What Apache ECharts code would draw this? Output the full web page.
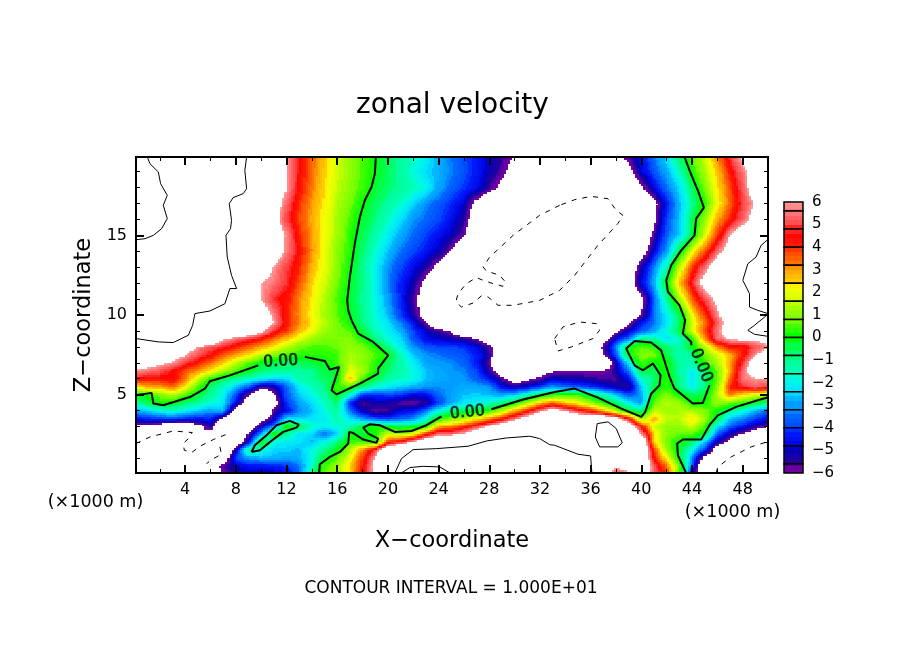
<![CDATA[<!DOCTYPE html>
<html>
<head>
<meta charset="utf-8">
<title>zonal velocity</title>
<script src="https://cdn.jsdelivr.net/npm/echarts@6/dist/echarts.min.js"></script>
<style>
html, body { margin: 0; padding: 0; background: #fff; }
#chart { width: 904px; height: 654px; }
</style>
</head>
<body>
<div id="chart"></div>
<script>
// grid nodes, x in km at every 1000 m, one row of velocities per z level
const xNodes = [0,1,2,3,4,5,6,7,8,9,10,11,12,13,14,15,16,17,18,19,20,21,22,23,24,25,26,27,28,29,30,31,32,33,34,35,36,37,38,39,40,41,42,43,44,45,46,47,48,49,50];
const zNodes = [20,19,18,17,16,15,14,13,12,11,10,9.5,9,8.5,8,7.5,7,6.5,6,5.5,5,4.5,4,3.5,3,2.5,2,1.5,1,0.5,0];

const uZ200 = [9,10,11,12,12,12,12,11,11,10,9,7.5,6,4.6,3.6,2.7,1.9,1.2,.6,.03,-.5,-1,-1.5,-2,-2.7,-3.3,-3.8,-4.3,-4.8,-5.4,-6.1,-7,-8,-9,-9,-9,-9,-8,-6.6,-5.5,-4.4,-3.3,-2.1,-.6,.7,1.8,3.3,5,6.3,7.5,8];
const uZ190 = [9,9.5,10.2,11,12,12,12,11,10.5,9.8,9,7.5,6,4.6,3.5,2.6,1.8,1.2,.6,0,-.6,-1.1,-1.7,-2.3,-2.7,-3.2,-3.7,-4.3,-5,-5.7,-6.5,-7.5,-8,-9,-9.3,-9.5,-9.3,-9,-8,-6.6,-4.8,-3.7,-2.8,-1.5,.2,1.4,2.7,4.3,5.6,7,8];
const uZ180 = [9,9.3,9.8,10.5,11,11.5,11.5,11,10.6,10.2,9,7.5,6,4.5,3.4,2.5,1.7,1.1,.5,-.2,-.7,-1,-1.4,-1.85,-2.8,-3.5,-4,-4.5,-5.4,-6.4,-7.5,-8.5,-9,-9.5,-10,-10.2,-10.3,-10,-9,-7.5,-6.3,-4.6,-3.3,-2.3,-.6,1,2.4,3.8,5.3,7,8];
const uZ170 = [8.5,9,9.8,10.5,11,11,11,10.4,9.8,9.4,8.5,7,5.4,4.1,3.1,2.4,1.5,.9,.05,-.6,-1.1,-1.6,-2.3,-3.1,-3.6,-4.1,-4.8,-6.5,-8,-9,-9.5,-9.8,-10,-10,-10,-10.3,-10.5,-10.3,-9.8,-9,-8,-6.6,-4.3,-2.7,-1.1,.3,2.1,3.6,5,6.1,7.5];
const uZ160 = [8,8.6,9.5,10.2,10.5,10.5,10.4,10.2,9.6,9,8.3,6.8,5,3.9,3,2.2,1.4,.6,-.2,-.8,-1.5,-2.2,-3,-3.4,-3.8,-4.4,-5.3,-7,-8.5,-9.2,-9.6,-9.9,-10.1,-10.2,-10.3,-10.4,-10.5,-10.5,-10,-9.3,-8,-6.4,-3.8,-2.6,-.5,1.2,2.9,4.2,5.4,6.6,7.5];
const uZ150 = [9.5,9.8,10.3,10.5,10.7,10.7,10.5,10.1,9.5,9,8.4,7.2,5.8,4.2,3.1,2.2,1.4,.3,-.5,-1.2,-2,-2.8,-3.4,-3.9,-4.4,-4.9,-5.8,-7.5,-8.8,-9.6,-10,-10.2,-10.4,-10.5,-10.5,-10.4,-10.3,-10,-9.6,-9,-7.8,-5.6,-3.5,-2.5,-.4,1.9,3.9,6,7,8,9.5];
const uZ140 = [8,8.5,9,9.5,9.8,10,10.2,10.1,9.6,9.2,8.5,7.2,5.7,4.5,3.2,2.1,1.1,.3,-.7,-1.6,-2.5,-3.3,-3.8,-4.3,-4.9,-6,-7.5,-8.8,-9.6,-10.1,-10.3,-10.4,-10.3,-10.2,-10,-9.8,-9.6,-9.5,-9,-8.4,-7,-4.7,-2.9,-.4,2,3.7,5.4,7,8.5,9.8,10.5];
const uZ130 = [8,8.3,8.6,9,9.3,9.5,9.7,9.9,9.2,8.7,7.2,5.9,5,4.2,2.9,2.1,1.1,.1,-1,-1.9,-3,-3.8,-4.5,-5.2,-6.4,-7.8,-8.8,-9.5,-9.9,-10,-9.9,-9.7,-9.5,-9.3,-9.2,-9.2,-9.1,-9,-8.5,-7.5,-5.2,-3.2,-1.3,1.6,3.9,5.5,7,8.5,9.6,10.4,10.5];
const uZ120 = [8,8,8,8.3,8.5,8.8,9.2,9.6,10,8,6,5.6,4.9,3.8,2.6,1.8,.9,-.1,-.9,-1.9,-3.2,-4.2,-5,-6.5,-8,-8.8,-9.5,-10,-10.2,-10.1,-9.6,-9.2,-9,-8.8,-8.8,-8.7,-8.6,-8.5,-8,-7,-4.6,-2.7,0,2.7,4.8,6.7,7.5,8.6,10,9.5,9];
const uZ110 = [8,8,8,8,8.3,8.7,9.2,9.9,8.8,7.6,6,4.8,4.4,3.3,2.4,1.5,.6,-.2,-1,-1.8,-2.9,-4.2,-5.5,-7,-8,-9,-10,-10.4,-10.3,-10.2,-9.8,-9.3,-8.8,-8.5,-8.3,-8.2,-8.1,-8,-7.8,-7.6,-6.6,-3.5,-1.1,1.4,3.6,5.2,6.4,8,9.6,10.2,9.8];
const uZ100 = [8,8,8,8,9,10,9.9,9.5,9,8,7,5.7,4.3,3.2,2.2,1.4,.7,-.1,-.9,-1.7,-2.6,-3.9,-5.2,-6.8,-7.8,-8.5,-9,-9.4,-9.6,-9.8,-9.7,-9.5,-9,-8.5,-8,-8,-8,-8,-8,-7.5,-6,-3.4,-2,-.6,2.2,4,5.7,7.5,8.8,9.5,10];
const uZ095 = [8,8,8,8.5,9.5,10.5,10,9.5,9,8,7,6,4.3,3.3,2.4,1.6,.9,.1,-.9,-1.6,-2.2,-3.2,-4.4,-5.9,-8,-9,-9.5,-9.5,-9.5,-9.5,-9.5,-9.2,-9,-8.5,-8.5,-8.5,-8.5,-8.5,-8,-6.2,-4.3,-3.4,-2.2,-.7,1.8,3.4,5.3,6.8,8,9,10];
const uZ090 = [8.5,8.8,9,9.2,9.6,10.5,9.5,8.5,8,7.5,6.4,4.9,4,2.9,2.1,1.3,.9,.7,-.3,-1.4,-2,-2.7,-3.8,-4.8,-5.5,-6.1,-8,-9,-9,-9,-9,-9,-8.8,-9.5,-10,-10.5,-10.4,-8.5,-6.5,-4.7,-3.7,-2.8,-1.7,-.4,1.9,3.8,5.6,7,8.5,9.6,10];
const uZ085 = [9.9,10.2,10.3,10.3,10,9.5,8,6.2,5.5,5,4.4,3.5,2.7,2,1.3,.9,.9,1,.3,-.8,-1.7,-2.3,-3.6,-4.5,-4.8,-5,-5.2,-5.9,-7.5,-8,-8,-8,-8.5,-9.8,-10.5,-10.8,-10.3,-7,-4.5,-3.3,-.8,-1.2,-2.3,-1.6,.1,3.2,5.5,6.1,6.3,6.3,6.5];
const uZ080 = [8.5,8.5,8,7.5,6.8,5.9,5.2,4.8,4.2,3.6,3,2.4,1.6,.9,.6,.6,.8,1.2,.9,.2,-.9,-2,-3,-3.7,-3.8,-3.9,-4,-4.6,-5.5,-7,-8,-8,-8,-8.5,-10,-9.5,-8,-5.7,-3.1,.1,.7,.4,-.7,-1.2,-.1,1.5,3.2,4.5,4.2,5.2,5.8];
const uZ075 = [8,7.5,7,6.5,6.1,5.2,4.6,3.7,3.1,2.5,1.7,1,.6,.3,.3,.3,.5,1.5,1.1,.7,.05,-1.4,-2.4,-3,-3.3,-3.5,-3.7,-4.2,-5.2,-8,-8,-8,-8,-8,-8,-8,-8,-6.1,-3.7,.1,1,1,-.5,-1.3,-1,.8,1.8,2.8,4.3,5.8,7];
const uZ070 = [7,6.7,6.3,5.9,5,4.3,3.5,2.7,1.6,.7,-.1,-.6,-.7,-.6,-.3,-.05,.5,1.6,1.1,.4,-.6,-1.2,-2,-2.9,-3,-3.1,-3.5,-4.2,-5.7,-8,-8,-8,-8,-7.5,-7.5,-7.5,-7.5,-8,-5,-2,.6,-.1,.3,-1.2,-1.3,.5,1.4,3,5,7,8];
const uZ065 = [5.9,5.6,5.2,4.6,3.8,3.2,2.4,1.5,.6,-.1,-.7,-1,-1,-1.1,-1,-.4,-.1,2,1.4,.2,-.7,-1.2,-1.8,-2.5,-2.8,-3,-3.2,-3.9,-5.2,-7,-7,-7,-7,-6.1,-5.9,-6,-6,-5.9,-5.2,-3.2,-.2,-.6,.2,-1.2,-2,-.8,.8,3,5.5,7,8];
const uZ060 = [4.6,4.3,4.4,4.6,3.5,1.8,.3,-.6,-1,-1.5,-1.9,-2.3,-2.3,-1.3,-1,-.7,-.2,3,.6,-.4,-1.2,-1.5,-1.8,-2.5,-2.8,-2.9,-3,-3.6,-4.3,-5.6,-7,-6.3,-5.7,-4.8,-5,-5.1,-5.3,-5.6,-5.6,-4.5,-1.6,-.8,.4,-.9,-2.2,-.8,.7,3.5,5.6,5.9,5.9];
const uZ055 = [2.2,3,3,3.6,2.4,.6,-.8,-1.5,-2.6,-3.6,-5.5,-5.2,-3.5,-2.1,-1.4,-.9,.6,.5,-.8,-1.6,-2.1,-2.4,-2.7,-3,-3.1,-3,-2.8,-2.8,-3,-4.5,-5,-4.6,-3.9,-3,-3.4,-3.7,-4,-4.5,-5,-5.5,-2.5,-.3,.4,-.8,-2.1,-.8,1,4.2,4.8,5.4,5];
const uZ050 = [.1,.1,1,1.5,.7,-.3,-1,-1.9,-3.8,-6,-8,-6.2,-3.6,-2.5,-1.9,-1.2,0,-1.6,-4,-4.2,-3.8,-4,-4.6,-4.5,-3.4,-2.9,-2.5,-2.4,-2.6,-2.8,-2.4,-1.5,-.2,.3,.4,.5,-.3,-1.4,-2.5,-3.7,-3,.2,1,.2,-.5,-.3,1.5,3.4,2.4,1.9,1.5];
const uZ045 = [-1.3,-.5,.2,0,-.7,-1.1,-1.7,-2.1,-4.5,-7,-9,-7,-4,-2.9,-2.3,-1.5,-.6,-4.2,-5.7,-5,-5.2,-5.7,-5.9,-5.4,-4,-2.8,-2.2,-2,-1.6,-.9,.1,1.4,2.7,3.6,2.8,2.2,1.2,.4,-.6,-2,-3,.7,1.6,1.3,.1,.1,1.2,.9,.4,-.2,-.9];
const uZ040 = [-2.8,-2.5,-1.8,-1.5,-2,-2.5,-2.9,-2.5,-7,-9,-9,-5.5,-4.5,-3.2,-2.5,-1.8,-1,-3.3,-4.9,-5.8,-5.6,-4.6,-4.4,-3.3,-1.8,-.9,-.5,-.2,.3,1.5,3,4.2,5.8,6.8,6,5,4.3,3,1.4,-.2,-.8,1.7,1.4,1.5,1.5,1,.1,-1,-1.7,-2.7,-3.5];
const uZ035 = [-4.4,-4.2,-4,-3.9,-4.2,-4.4,-4.2,-6.3,-9,-9,-6.7,-5,-2.2,-2.3,-2.2,-2,-1.3,-2.1,-2.9,-3.6,-3.8,-3.5,-3.1,-1.6,.3,1.1,1.6,2.4,3.3,4.4,5.7,6.9,8,8,8,7.5,7.5,8,7,4.7,1.2,3,1.6,1.5,2.5,1.3,-.4,-2.6,-3.2,-3.9,-4.6];
const uZ030 = [-6.6,-6.3,-7,-8,-8,-6.6,-5.2,-9,-9,-7.5,-5,-3,.3,-.2,-1.5,-1.8,-1.7,-1.5,-.1,.2,-.2,-.4,-.3,-.1,2.9,3.2,4,5.1,6.2,7.3,8,8,8,9,9,9,9.5,10.5,9,7.5,4.5,1.7,1.2,1.2,1.8,.6,-2,-3.5,-4.3,-5.2,-5.9];
const uZ025 = [-9.8,-9.9,-10,-10.2,-10.2,-5.9,-6.5,-9,-9,-5.6,-3,.4,-1,-2.2,-2.3,-3.5,-2.4,.1,-.3,.1,1.8,1.4,2,4.1,5.5,5.4,6.2,7,8,8.5,9,9,9,9,9,9,9.6,11,11,8,6,2.6,1,.8,.7,0,-3.5,-5,-6.1,-7,-8];
const uZ020 = [-9.9,-9.5,-9.5,-9.5,-10.5,-9.8,-10,-9,-8,-4.6,.3,-1.8,-2.1,-2.2,-2.6,-1.8,-.9,.5,.4,.1,4.1,4.7,6.1,7.5,8,9,9.5,9.7,10.2,10.4,10.6,10.7,10.3,9.8,9.5,9.3,9.5,11,10.2,8,8,2.6,.9,.1,-.7,-2.5,-5,-6.5,-8,-9,-10];
const uZ015 = [-9.5,-9.5,-9.5,-9.5,-10,-9.5,-9.5,-8.5,-5,-.8,-1.7,-2.4,-2.4,-2.6,-1.8,-.9,-.1,1.5,3.3,5,8,9,10.2,10.3,10.4,10.4,10.5,10.7,10.9,11,11,11,10.8,10.5,10.2,10,9.7,9.3,9,8.5,8,4,1.2,-.2,-1.8,-4,-7,-8,-9,-9.5,-10.5];
const uZ010 = [-9,-9,-9,-9,-9,-9,-9.5,-7.5,-3.7,-2.9,-2.6,-2.6,-2.8,-2.7,-1.8,-.3,.7,2.1,4,6,8,10,11,11,11,11,11,11,11,11,11,11,11,11,11,10.3,10.2,9,8.5,8,8,4.4,2.2,0,-3,-6.7,-8,-9,-9.5,-9,-9];
const uZ005 = [-8,-8,-8,-8,-8,-8,-7,-5.6,-4.8,-4.4,-4.4,-4.2,-4,-3.2,-1.6,.6,1.2,2.6,4.2,6.5,8,10.2,9.7,9.6,9.7,10.5,11,11,11,11,11,11,11,11,11,11,10.5,8,6.2,6.8,8,5.3,3.4,1,-3.5,-8,-8,-8,-8,-8,-8];
const uZ000 = [-8,-8,-8,-8,-8,-8,-7,-6,-5.2,-5,-5,-5,-4.6,-3.7,-.5,.7,1.3,2.5,4.5,6.2,8,10.5,11,11,11,10.5,11,11,11,11,11,11,11,11,11,11,10,6.2,5.2,5.6,6.8,5.5,4,.7,-5,-8,-8,-8,-8,-8,-8];

const velocityRows = [uZ200,uZ190,uZ180,uZ170,uZ160,uZ150,uZ140,uZ130,uZ120,uZ110,uZ100,uZ095,uZ090,uZ085,uZ080,uZ075,uZ070,uZ065,uZ060,uZ055,uZ050,uZ045,uZ040,uZ035,uZ030,uZ025,uZ020,uZ015,uZ010,uZ005,uZ000];

// colour table as read off the label bar
const colorValues = [-6,-5.63,-5.56,-4.83,-4.77,-4.03,-3.97,-3.23,-3.18,-2.44,-2.38,-1.64,-1.58,-.85,-.79,-.05,0,.74,.8,1.57,1.66,2.38,2.44,3.17,3.25,3.98,4.04,4.75,4.82,5.56,6];
const colorStops = ['#7000a0','#6a00a8','#300098','#0000b8','#0000e0','#0020ff','#0040ff','#0070ff','#0090ff','#00c0ff','#00e0ff','#00ffe0','#00ffc0','#00ff90','#00ff70','#00ff20','#00ff00','#50ff00','#70ff00','#b0ff00','#ccff00','#ffff00','#ffd800','#ffa000','#ff8000','#ff4000','#ff2000','#ff0000','#ff3030','#ff7070','#ffa0a0'];
const barEdges = [6,5.6,4.8,4,3.2,2.4,1.6,.8,0,-.8,-1.6,-2.4,-3.2,-4,-4.8,-5.6,-6];

// contour lines as [x km, z km]
const lineTopLeft = [[1.01,19.92],[1.22,19.5],[1.88,18.98],[2.06,18.25],[2.59,17.51],[2.27,16.89],[2.59,16.05],[2.14,15.42],[1.49,15],[.83,14.79],[.12,14.73]];
const lineLeft = [[8.85,19.92],[8.71,19.08],[8.85,17.93],[8.58,17.62],[7.79,17.37],[7.48,16.99],[7.66,15.94],[7.58,15.42],[7.22,15],[7.32,13.64],[7.66,12.49],[8.06,11.66],[7.53,11.66],[7.14,10.71],[5.95,10.25],[4.77,10.09],[4.59,9.35],[4.25,8.73],[3.06,8.27],[1.88,8.31],[.12,8.52]];
const zeroMainA = [[19.05,19.92],[18.97,18.87],[18.71,18.04],[18.18,17.2],[17.79,16.15],[17.39,14.48],[17,12.39],[16.79,10.92],[16.87,10.29],[17.13,9.67],[17.66,8.83],[18.84,8.31],[20.02,7.47],[19.23,6.63],[19.23,6.32],[17.79,5.69],[16.21,5.11],[15.94,5.02],[15.55,5.27],[16.15,6.74],[15.42,6.57],[15.03,7.11],[13.45,7.37]];
const zeroMainB = [[9.77,6.84],[7.53,6.21],[5.95,5.84],[5.56,5.38],[4.38,4.85],[2.27,4.33],[1.49,4.44],[1.35,5.11],[.12,4.96]];
const zeroBlob = [[9.24,1.4],[9.5,1.82],[10.42,2.45],[11.21,3.08],[12.26,3.35],[12.97,3.12],[12.79,2.93],[11.74,2.66],[10.69,2.03],[9.9,1.51],[9.24,1.4]];
const zeroLongA = [[14.58,.08],[14.63,.63],[15.42,1.09],[16.21,1.4],[16.87,1.93],[16.95,2.66],[17.26,2.59],[18.05,2.18],[19.1,1.97],[19.23,2.24],[18.44,2.55],[18.05,2.93],[18.58,3.14],[19.36,3.08],[20.55,2.66],[21.86,2.72],[23.04,3.08],[24.23,3.64]];
const zeroLongB = [[28.17,4.08],[30.67,4.69],[33.16,5.17],[34.74,5.38],[36.58,4.81],[38.42,4.12],[40,3.6],[40.31,3.91],[40.78,5.06],[41.44,5.59],[41.52,6.21],[40.92,6.95],[40.13,6.53],[39.47,6.84],[38.81,7.89],[39.47,8.37],[40.78,8.27],[41.57,7.78],[42.23,6.11],[42.62,5.38],[44.07,4.44],[44.86,4.48],[45.38,5.59]];
const zeroRight = [[43.94,8.1],[43.94,8.31],[43.28,8.83],[43.46,9.67],[43.02,10.61],[42.1,11.45],[41.97,12.18],[42.36,13.12],[43.15,14.06],[44.2,15],[44.33,16.05],[44.94,16.74],[44.46,17.83],[44.07,18.56],[43.81,19.08],[43.41,19.92]];
const zeroLowRight = [[43.54,.08],[42.89,1.19],[42.83,1.93],[43.28,2.18],[44.73,2.18],[45.38,3.08],[46.04,3.7],[47.49,4.23],[49.2,4.65],[50,4.84]];
const lineBottom = [[20.55,.08],[21.07,.98],[21.99,1.55],[23.83,1.61],[26.33,1.76],[27.78,2.09],[29.35,2.28],[31.19,2.39],[31.98,2.24],[32.77,1.86],[33.16,1.82],[35,1.26],[36,1.15],[36.1,.08]];
const lineBottomInner = [[21.07,.08],[21.73,.42],[22.78,.5],[24.1,.46],[24.9,.08]];
const lineLoop = [[36.52,3.18],[37.37,3.29],[38.02,2.87],[38.5,1.97],[38.15,1.72],[36.71,1.72],[36.37,2.34],[36.52,3.18]];
const lineRightTop = [[50,14.75],[49.46,14.38],[49.06,13.64],[48.41,13.22],[48.01,12.18],[48.54,11.34],[48.54,10.5],[49.2,10.29],[50,10.09]];
const lineRightLow = [[50,10.05],[48.93,9.35],[48.41,9.04],[48.93,8.79],[50,8.66]];
const dashBig = [[33.56,16.89],[31.98,16.26],[29.88,15],[28.04,13.64],[27.51,13.02],[27.78,12.76],[28.83,12.49],[29.28,12.07],[29.09,11.8],[28.3,11.97],[27.51,12.18],[26.99,12.35],[26.2,11.97],[25.54,11.34],[25.36,10.82],[25.8,10.5],[26.72,10.75],[27.38,11.2],[27.91,11.13],[28.7,10.61],[29.88,10.61],[31.98,10.92],[33.56,11.55],[34.74,12.49],[36.58,14.38],[38.15,15.74],[38.55,16.26],[38.02,16.57],[37.37,17.3],[36.05,17.45],[34.74,17.24],[33.56,16.89]];
const dashSmall = [[33.16,8.52],[33.82,9.25],[35.13,9.56],[36.45,9.46],[36.71,9.04],[36.18,8.52],[34.47,7.99],[33.42,7.74],[33.16,8.52]];
const dashLowLeft = [[.12,1.93],[1.22,2.34],[3.06,2.72],[4.56,2.62],[4.25,2.24],[3.85,1.93],[3.93,1.51],[4.51,1.36],[5.17,1.76],[6.22,2.18],[7.53,2.59]];
const dashLowLeft2 = [[6.74,1.72],[6.87,1.26],[6.22,.98],[5.69,.67]];
const dashLowRight = [[45.91,.08],[46.04,.46],[47.09,1.09],[48.67,1.72],[50,2.05]];

const zeroLines = [zeroMainA, zeroMainB, zeroBlob, zeroLongA, zeroLongB, zeroRight, zeroLowRight];
const thinLines = [lineTopLeft, lineLeft, lineBottom, lineBottomInner, lineLoop, lineRightTop, lineRightLow];
const dashLines = [dashBig, dashSmall, dashLowLeft, dashLowLeft2, dashLowRight];

// contour labels: x, z, rotation
const zeroLabels = [[11.55,7.11,3],[26.28,3.91,6],[44.75,6.84,-68]];

const xMajor = [4,8,12,16,20,24,28,32,36,40,44,48];
const xMinor = [2,6,10,14,18,22,26,30,34,38,42,46];
const zMajor = [5,10,15];
const zMinor = [1,2,3,4,6,7,8,9,11,12,13,14,16,17,18,19];

const FONT = 'DejaVu Sans';
const BLACK = '#000';

function hexToRgb(hex) {
    return [1, 3, 5].map((at) => parseInt(hex.slice(at, at + 2), 16));
}

const rgbStops = colorStops.map(hexToRgb);
const colorCache = {};

function colorFor(value) {
    // the picture is shaded in narrow flat bands
    const key = Math.round(value * 5);
    if (colorCache[key]) {
        return colorCache[key];
    }
    const v = Math.max(-6, Math.min(6, key / 5));
    let at = 0;
    while (at < colorValues.length - 2 && v > colorValues[at + 1]) {
        at += 1;
    }
    const t = (v - colorValues[at]) / (colorValues[at + 1] - colorValues[at]);
    const rgb = rgbStops[at].map((c, k) => Math.round(c + (rgbStops[at + 1][k] - c) * t));
    colorCache[key] = `rgb(${rgb.join(',')})`;
    return colorCache[key];
}

const velocityData = [];
velocityRows.forEach((row, j) => {
    row.forEach((value, i) => {
        velocityData.push([xNodes[i], zNodes[j], value, i, j]);
    });
});

function renderVelocityCell(params, api) {
    const i = api.value(3);
    const j = api.value(4);
    if (i >= xNodes.length - 1 || j >= zNodes.length - 1) {
        return null;
    }
    const topLeft = api.coord([xNodes[i], zNodes[j]]);
    const bottomRight = api.coord([xNodes[i + 1], zNodes[j + 1]]);
    const upper = velocityRows[j];
    const lower = velocityRows[j + 1];
    const stepsX = 6;
    const stepsZ = Math.max(2, Math.round((bottomRight[1] - topLeft[1]) / 2));
    const children = [];
    for (let a = 0; a < stepsX; a += 1) {
        const tx = (a + 0.5) / stepsX;
        const x0 = Math.round(topLeft[0] + (bottomRight[0] - topLeft[0]) * a / stepsX);
        const x1 = Math.round(topLeft[0] + (bottomRight[0] - topLeft[0]) * (a + 1) / stepsX);
        for (let b = 0; b < stepsZ; b += 1) {
            const tz = (b + 0.5) / stepsZ;
            const top = upper[i] + (upper[i + 1] - upper[i]) * tx;
            const bottom = lower[i] + (lower[i + 1] - lower[i]) * tx;
            const value = top + (bottom - top) * tz;
            if (Math.abs(value) > 6) {
                continue;
            }
            const y0 = Math.round(topLeft[1] + (bottomRight[1] - topLeft[1]) * b / stepsZ);
            const y1 = Math.round(topLeft[1] + (bottomRight[1] - topLeft[1]) * (b + 1) / stepsZ);
            children.push({
                type: 'rect',
                shape: { x: x0, y: y0, width: x1 - x0, height: y1 - y0 },
                style: { fill: colorFor(value) },
                silent: true,
            });
        }
    }
    return { type: 'group', children };
}

function renderBarBlock(params, api) {
    const high = api.value(1);
    const low = api.value(2);
    const topLeft = api.coord([0, high]);
    const bottomRight = api.coord([1, low]);
    const width = bottomRight[0] - topLeft[0];
    const height = bottomRight[1] - topLeft[1];
    const children = [];
    const bands = 4;
    for (let k = 0; k < bands; k += 1) {
        const y0 = Math.round(topLeft[1] + height * k / bands);
        const y1 = Math.round(topLeft[1] + height * (k + 1) / bands);
        children.push({
            type: 'rect',
            shape: { x: topLeft[0], y: y0, width, height: y1 - y0 },
            style: { fill: colorFor(high + (low - high) * (k + 0.5) / bands) },
        });
    }
    children.push({
        type: 'rect',
        shape: { x: topLeft[0], y: topLeft[1], width, height },
        style: { fill: 'none', stroke: BLACK, lineWidth: 1.5 },
    });
    return { type: 'group', children };
}

const barData = barEdges.slice(0, -1).map((edge, k) => [0.5, edge, barEdges[k + 1]]);

function xTicks(position, values, length, extra) {
    return Object.assign({
        type: 'value',
        gridIndex: 0,
        position,
        min: 0.12,
        max: 50,
        z: 6,
        axisLine: { show: true, onZero: false, lineStyle: { color: BLACK, width: 2 } },
        axisTick: { show: true, inside: true, length, customValues: values, lineStyle: { color: BLACK, width: length > 5 ? 2 : 1 } },
        axisLabel: { show: false },
        splitLine: { show: false },
    }, extra);
}

function zTicks(position, values, length, extra) {
    return Object.assign({
        type: 'value',
        gridIndex: 0,
        position,
        min: 0.08,
        max: 19.92,
        z: 6,
        axisLine: { show: true, onZero: false, lineStyle: { color: BLACK, width: 2 } },
        axisTick: { show: true, inside: true, length, customValues: values, lineStyle: { color: BLACK, width: length > 5 ? 2 : 1 } },
        axisLabel: { show: false },
        splitLine: { show: false },
    }, extra);
}

function lineSeries(points, width, dashed) {
    return {
        type: 'line',
        data: points,
        xAxisIndex: 0,
        yAxisIndex: 0,
        z: 3,
        silent: true,
        showSymbol: false,
        symbol: 'none',
        lineStyle: { color: BLACK, width, type: dashed ? [5, 6] : 'solid' },
    };
}

const chart = echarts.init(document.getElementById('chart'), null, { renderer: 'canvas' });

chart.setOption({
    animation: false,
    backgroundColor: '#fff',
    textStyle: { fontFamily: FONT, color: BLACK },
    title: [
        { text: 'zonal velocity', left: 447.5, top: 87, textAlign: 'center', textStyle: { fontFamily: FONT, fontSize: 28, fontWeight: 'normal', color: BLACK } },
        { text: '(×1000 m)', left: 90.5, top: 488, textAlign: 'center', textStyle: { fontFamily: FONT, fontSize: 17.5, fontWeight: 'normal', color: BLACK } },
        { text: '(×1000 m)', left: 727.5, top: 498, textAlign: 'center', textStyle: { fontFamily: FONT, fontSize: 17.5, fontWeight: 'normal', color: BLACK } },
        { text: 'CONTOUR INTERVAL = 1.000E+01', left: 446, top: 575.5, textAlign: 'center', textStyle: { fontFamily: FONT, fontSize: 17, fontWeight: 'normal', color: BLACK } },
    ],
    grid: [
        { left: 136, top: 157, width: 632, height: 316, containLabel: false },
        { left: 784, top: 202, width: 19, height: 271, containLabel: false },
    ],
    xAxis: [
        xTicks('bottom', xMajor, 8, {
            name: 'X−coordinate',
            nameLocation: 'middle',
            nameGap: 57,
            nameTextStyle: { fontFamily: FONT, fontSize: 22.5, color: BLACK },
            axisLabel: { show: true, margin: 9, customValues: xMajor, fontFamily: FONT, fontSize: 16, color: BLACK },
        }),
        xTicks('bottom', xMinor, 4),
        xTicks('top', xMajor, 8),
        xTicks('top', xMinor, 4),
        { type: 'value', gridIndex: 1, min: 0, max: 1, show: false },
    ],
    yAxis: [
        zTicks('left', zMajor, 8, {
            name: 'Z−coordinate',
            nameLocation: 'middle',
            nameGap: 40,
            nameRotate: 90,
            nameTextStyle: { fontFamily: FONT, fontSize: 22.5, color: BLACK },
            axisLabel: { show: true, margin: 9, customValues: zMajor, fontFamily: FONT, fontSize: 16, color: BLACK },
        }),
        zTicks('left', zMinor, 4),
        zTicks('right', zMajor, 8),
        zTicks('right', zMinor, 4),
        {
            type: 'value',
            gridIndex: 1,
            position: 'right',
            min: -6,
            max: 6,
            interval: 1,
            axisLine: { show: false },
            axisTick: { show: false },
            splitLine: { show: false },
            axisLabel: {
                margin: 9,
                align: 'left',
                fontFamily: FONT,
                fontSize: 15,
                color: BLACK,
                formatter: (value) => String(value).replace('-', '−'),
            },
        },
    ],
    series: [
        {
            type: 'custom',
            data: velocityData,
            xAxisIndex: 0,
            yAxisIndex: 0,
            z: 2,
            clip: true,
            silent: true,
            progressive: 0,
            encode: { x: 0, y: 1 },
            renderItem: renderVelocityCell,
        },
        {
            type: 'custom',
            data: barData,
            xAxisIndex: 4,
            yAxisIndex: 4,
            z: 2,
            silent: true,
            encode: { x: 0, y: 1 },
            renderItem: renderBarBlock,
        },
        ...zeroLines.map((points) => lineSeries(points, 2, false)),
        ...thinLines.map((points) => lineSeries(points, 1, false)),
        ...dashLines.map((points) => lineSeries(points, 1, true)),
        {
            type: 'scatter',
            data: zeroLabels,
            xAxisIndex: 0,
            yAxisIndex: 0,
            z: 4,
            silent: true,
            symbolSize: 0,
            label: {
                show: true,
                position: 'inside',
                formatter: '0.00',
                fontFamily: 'Liberation Sans',
                fontSize: 18,
                fontWeight: 'bold',
                color: BLACK,
            },
            labelLayout: (params) => ({ rotate: zeroLabels[params.dataIndex][2] }),
        },
    ],
});
</script>
</body>
</html>
]]>
